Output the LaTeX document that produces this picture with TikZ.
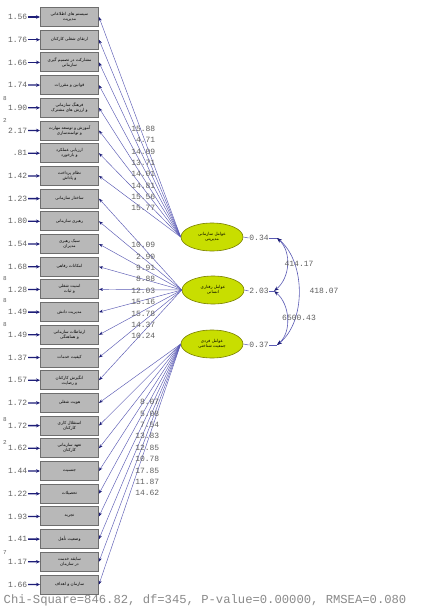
\documentclass[tikz,border=0pt]{standalone}
\usepackage{fontspec}
\setmonofont{Liberation Mono}
\newfontfamily\arabicfont[Script=Arabic]{DejaVu Sans}
\TeXXeTstate=1
\newcommand{\pers}[1]{{\arabicfont\beginR #1\endR}}
\usetikzlibrary{arrows.meta,shapes.geometric}
\definecolor{boxfill}{HTML}{B8B8B8}
\definecolor{boxline}{HTML}{6E6E6E}
\definecolor{latfill}{HTML}{C8DE00}
\definecolor{latline}{HTML}{7A8000}
\definecolor{pathblue}{HTML}{5A5AB4}
\definecolor{tipblue}{HTML}{1E1E78}
\definecolor{numgray}{HTML}{606060}
\definecolor{chigray}{HTML}{8A8A8A}
\tikzset{
 obsbox/.style={draw=boxline, line width=0.9pt, fill=boxfill, minimum width=58pt, minimum height=19pt, inner sep=1pt, align=center, font=\fontsize{4.2}{5}\selectfont},
 latent/.style={ellipse, draw=latline, line width=0.6pt, fill=latfill, minimum width=62pt, minimum height=28pt, inner sep=0pt, align=center, font=\fontsize{4.2}{5}\selectfont},
 num/.style={font=\ttfamily\fontsize{8}{9}\selectfont, text=numgray, inner sep=0.5pt},
 frag/.style={font=\ttfamily\fontsize{6}{7}\selectfont, text=numgray, inner sep=0pt},
 loadline/.style={draw=pathblue, line width=0.45pt, -{Stealth[length=4pt,width=3pt,color=tipblue]}},
 errarrow/.style={draw=tipblue, line width=1.3pt, -{Stealth[length=4pt,width=3.5pt]}},
 plainline/.style={draw=pathblue, line width=0.5pt},
 corrarc/.style={draw=pathblue, line width=0.6pt, {Stealth[length=5pt,width=3.5pt,color=tipblue]}-{Stealth[length=5pt,width=3.5pt,color=tipblue]}},
}
\begin{document}
\begin{tikzpicture}[x=1pt,y=-1pt]
\useasboundingbox[fill=white] (0,0) rectangle (425,607);
% observed variables
\node[obsbox] (b0) at (69.5,17.0) {\pers{سیستم های اطلاعاتی}\\\pers{مدیریت}};
\node[obsbox] (b1) at (69.5,39.7) {\pers{ارتقای شغلی کارکنان}};
\node[obsbox] (b2) at (69.5,62.4) {\pers{مشارکت در تصمیم گیری}\\\pers{سازمانی}};
\node[obsbox] (b3) at (69.5,85.1) {\pers{قوانین و مقررات}};
\node[obsbox] (b4) at (69.5,107.8) {\pers{فرهنگ سازمانی}\\\pers{و ارزش های مشترک}};
\node[obsbox] (b5) at (69.5,130.5) {\pers{آموزش و توسعه مهارت}\\\pers{و توانمندسازی}};
\node[obsbox] (b6) at (69.5,153.2) {\pers{ارزیابی عملکرد}\\\pers{و بازخورد}};
\node[obsbox] (b7) at (69.5,175.9) {\pers{نظام پرداخت}\\\pers{و پاداش}};
\node[obsbox] (b8) at (69.5,198.6) {\pers{ساختار سازمانی}};
\node[obsbox] (b9) at (69.5,221.3) {\pers{رهبری سازمانی}};
\node[obsbox] (b10) at (69.5,244.0) {\pers{سبک رهبری}\\\pers{مدیران}};
\node[obsbox] (b11) at (69.5,266.7) {\pers{امکانات رفاهی}};
\node[obsbox] (b12) at (69.5,289.4) {\pers{امنیت شغلی}\\\pers{و ثبات}};
\node[obsbox] (b13) at (69.5,312.1) {\pers{مدیریت دانش}};
\node[obsbox] (b14) at (69.5,334.8) {\pers{ارتباطات سازمانی}\\\pers{و هماهنگی}};
\node[obsbox] (b15) at (69.5,357.5) {\pers{کیفیت خدمات}};
\node[obsbox] (b16) at (69.5,380.2) {\pers{انگیزش کارکنان}\\\pers{و رضایت}};
\node[obsbox] (b17) at (69.5,402.9) {\pers{هویت شغلی}};
\node[obsbox] (b18) at (69.5,425.6) {\pers{استقلال کاری}\\\pers{کارکنان}};
\node[obsbox] (b19) at (69.5,448.3) {\pers{تعهد سازمانی}\\\pers{کارکنان}};
\node[obsbox] (b20) at (69.5,471.0) {\pers{جنسیت}};
\node[obsbox] (b21) at (69.5,493.7) {\pers{تحصیلات}};
\node[obsbox] (b22) at (69.5,516.4) {\pers{تجربه}};
\node[obsbox] (b23) at (69.5,539.1) {\pers{وضعیت تأهل}};
\node[obsbox] (b24) at (69.5,561.8) {\pers{سابقه خدمت}\\\pers{در سازمان}};
\node[obsbox] (b25) at (69.5,584.5) {\pers{سازمان و اهداف}};
% error terms
\foreach \v [count=\k from 0] in {1.56,1.76,1.66,1.74,1.90,2.17,.81,1.42,1.23,1.80,1.54,1.68,1.28,1.49,1.49,1.37,1.57,1.72,1.72,1.62,1.44,1.22,1.93,1.41,1.17,1.66}{
  \node[num, anchor=east] (e\k) at (28,{17+22.7*\k}) {\v};
  \draw[errarrow] (e\k.east) -- (b\k.west);
}
% fragments
\node[frag] (f1) at (5,99) {8};
\node[frag] (f2) at (5,120) {2};
\node[frag] (f3) at (5,279) {8};
\node[frag] (f4) at (5,301) {8};
\node[frag] (f5) at (5,325) {8};
\node[frag] (f6) at (5,420) {8};
\node[frag] (f7) at (5,442) {2};
\node[frag] (f8) at (5,553) {7};
% latent variables
\node[latent] (E1) at (212,237) {\pers{عوامل سازمانی}\\\pers{مدیریتی}};
\node[latent] (E2) at (213,290) {\pers{عوامل رفتاری}\\\pers{انسانی}};
\node[latent] (E3) at (212,344) {\pers{عوامل فردی}\\\pers{جمعیت شناختی}};
% loadings
\foreach \i in {0,...,7} \draw[loadline] (E1.west) -- (b\i.east);
\foreach \i in {8,...,16} \draw[loadline] (E2.west) -- (b\i.east);
\foreach \i in {17,...,25} \draw[loadline] (E3.west) -- (b\i.east);
\foreach \v [count=\k from 0] in {15.88,4.71,14.09,13.71,14.01,14.81,15.56,15.77}
  \node[num, anchor=east] (la\k) at (156,{129+11.3*\k}) {\v};
\foreach \v [count=\k from 0] in {10.09,2.90,9.91,8.88,12.03,15.16,15.78,14.37,10.24}
  \node[num, anchor=east] (lb\k) at (156,{245+11.4*\k}) {\v};
\foreach \v [count=\k from 0] in {8.07,5.08,7.54,13.83,12.85,10.78,17.85,11.87,14.62}
  \node[num, anchor=east] (lc\k) at (160,{402+11.4*\k}) {\v};
% right side
\coordinate (P1) at (277,238);
\coordinate (P2) at (274,291);
\coordinate (P3) at (277,345);
\node[num] (v1) at (259,238) {0.34};
\node[num] (v2) at (259,291) {2.03};
\node[num] (v3) at (259,345) {0.37};
\draw[plainline] (E1.east) -- (v1.west);
\draw[plainline] (E2.east) -- (v2.west);
\draw[plainline] (E3.east) -- (v3.west);
\draw[plainline] (v1.east) -- (P1);
\draw[plainline] (v2.east) -- (P2);
\draw[plainline] (v3.east) -- (P3);
\draw[corrarc] (P1) .. controls (292,252) and (290,278) .. (P2);
\draw[corrarc] (P2) .. controls (290,304) and (292,332) .. (P3);
\draw[corrarc] (P1) .. controls (306,262) and (306,322) .. (P3);
\node[num] (c12) at (299,264) {414.17};
\node[num] (c13) at (324,291) {418.07};
\node[num] (c23) at (299,318) {6500.43};
% fit statistics
\node[num, font=\ttfamily\fontsize{12.2}{14}\selectfont, text=chigray, anchor=west] (chi) at (3,600) {Chi-Square=846.82, df=345, P-value=0.00000, RMSEA=0.080};
\end{tikzpicture}
\end{document}
